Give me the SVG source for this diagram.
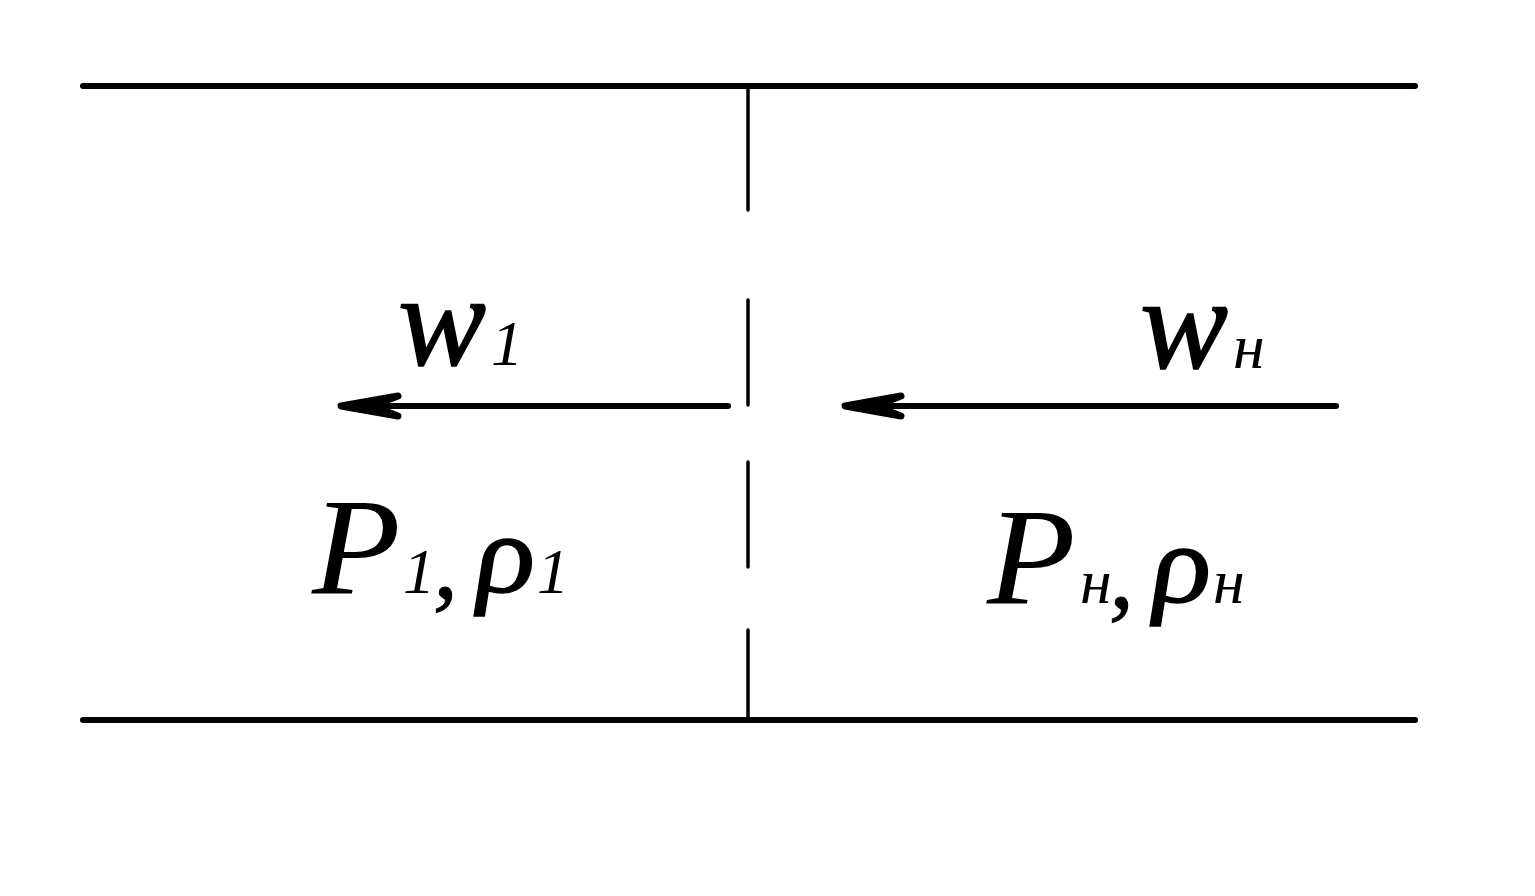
<svg xmlns="http://www.w3.org/2000/svg" width="1535" height="896" viewBox="0 0 1535 896">
<style>
.wall{stroke:#000;stroke-width:6;stroke-linecap:round;fill:none}
.div{stroke:#000;stroke-width:3.5;stroke-linecap:round;fill:none}
.arr{stroke:#000;stroke-width:6;stroke-linecap:round;fill:none}
.barb{stroke:#000;stroke-width:7;stroke-linecap:round;stroke-linejoin:round;fill:#000}
text{font-family:"Liberation Serif","Times New Roman",serif;font-style:italic;fill:#000}
.b{font-size:137px}.w{font-size:132px;stroke:#000;stroke-width:1.5}.s{font-size:64px}.c{font-size:100px;stroke:#000;stroke-width:1}
.r{font-size:113px;font-style:normal;stroke:#000;stroke-width:1.5}
</style>
<rect width="1535" height="896" fill="#fff"/>
<g id="connectors">
<line class="wall" x1="83" y1="86" x2="1415" y2="86"/>
<line class="wall" x1="83" y1="720" x2="1415" y2="720"/>
<line class="div" x1="748" y1="86" x2="748" y2="210"/>
<line class="div" x1="748" y1="300" x2="748" y2="405"/>
<line class="div" x1="748" y1="462" x2="748" y2="567"/>
<line class="div" x1="748" y1="630" x2="748" y2="720"/>
<path class="arr" d="M728 406H350"/>
<path class="barb" d="M398 396L341 406L398 416L372 406Z"/>
<path class="arr" d="M1336 406H854"/>
<path class="barb" d="M901 396L845 406L901 416L875 406Z"/>
</g>
<g id="label-w1"><text class="w" x="398" y="365">w</text><text class="s" x="491" y="365">1</text></g>
<g id="label-wn"><text class="w" x="1140" y="368">w</text><text class="s" x="1233" y="368">н</text></g>
<g id="label-p1"><text class="b" transform="translate(312 593) scale(1.06 1)">P</text><text class="s" x="403" y="593">1</text><text class="c" x="433" y="597">,</text><text class="r" transform="translate(470 592) skewX(-9) scale(1.1 1)">ρ</text><text class="s" x="537" y="593">1</text></g>
<g id="label-pn"><text class="b" transform="translate(987 603) scale(1.06 1)">P</text><text class="s" x="1080" y="603">н</text><text class="c" x="1109" y="607">,</text><text class="r" transform="translate(1146 602) skewX(-9) scale(1.1 1)">ρ</text><text class="s" x="1213" y="603">н</text></g>
</svg>
